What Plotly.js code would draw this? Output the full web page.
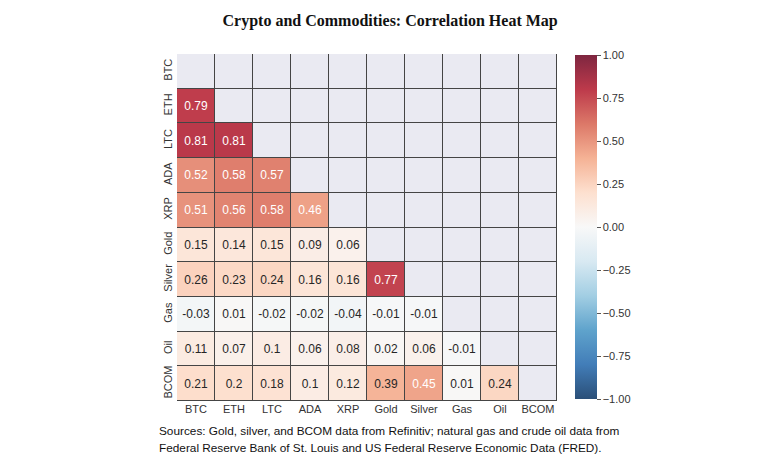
<!DOCTYPE html>
<html>
<head>
<meta charset="utf-8">
<script src="https://cdn.plot.ly/plotly-3.0.1.min.js"></script>
<style>html,body{margin:0;padding:0;background:#fff;}#chart{width:768px;height:463px;}</style>
</head>
<body>
<div id="chart"></div>
<script>
// Categories (rows top-to-bottom, columns left-to-right)
const assets = ["BTC", "ETH", "LTC", "ADA", "XRP", "Gold", "Silver", "Gas", "Oil", "BCOM"];

// Lower-triangle correlation values, one array per row
const rowBTC    = [];
const rowETH    = [0.79];
const rowLTC    = [0.81, 0.81];
const rowADA    = [0.52, 0.58, 0.57];
const rowXRP    = [0.51, 0.56, 0.58, 0.46];
const rowGold   = [0.15, 0.14, 0.15, 0.09, 0.06];
const rowSilver = [0.26, 0.23, 0.24, 0.16, 0.16, 0.77];
const rowGas    = [-0.03, 0.01, -0.02, -0.02, -0.04, -0.01, -0.01];
const rowOil    = [0.11, 0.07, 0.1, 0.06, 0.08, 0.02, 0.06, -0.01];
const rowBCOM   = [0.21, 0.2, 0.18, 0.1, 0.12, 0.39, 0.45, 0.01, 0.24];

const colorbarTicks = [1, 0.75, 0.5, 0.25, 0, -0.25, -0.5, -0.75, -1];

const titleText = "Crypto and Commodities: Correlation Heat Map";
const sourceLines = [
  "Sources: Gold, silver, and BCOM data from Refinitiv; natural gas and crude oil data from",
  "Federal Reserve Bank of St. Louis and US Federal Reserve Economic Data (FRED)."
];

const rows = [rowBTC, rowETH, rowLTC, rowADA, rowXRP, rowGold, rowSilver, rowGas, rowOil, rowBCOM];
const zMask = rows.map(r => assets.map((_, j) => (j < r.length ? null : 0)));
const pick = (cond) => rows.map(r => assets.map((_, j) => (j < r.length && cond(r[j]) ? r[j] : null)));
const zStrong = pick(v => Math.abs(v) >= 0.42);
const zWeak = pick(v => Math.abs(v) < 0.42);
const toText = (zz) => zz.map(r => r.map(v => (v === null ? "" : String(v))));

const rdbu = [
  [0.0, "#2a4f78"], [0.1, "#427db8"], [0.2, "#5fa3cc"], [0.3, "#a2cee3"],
  [0.4, "#d8e9f2"], [0.5, "#f8f8f8"], [0.6, "#fde0cf"], [0.7, "#f5b295"],
  [0.8, "#dc7868"], [0.9, "#bd3a4b"], [1.0, "#7e2640"]
];

const common = {
  type: "heatmap", x: assets, y: assets, xgap: 1, ygap: 1,
  zmin: -1, zmax: 1, colorscale: rdbu, hoverongaps: false
};
const cellFont = "Liberation Sans, Arial, sans-serif";

const traces = [
  Object.assign({}, common, {
    z: zMask, colorscale: [[0, "#eaeaf2"], [1, "#eaeaf2"]], showscale: false, hoverinfo: "skip"
  }),
  Object.assign({}, common, {
    z: zWeak, text: toText(zWeak), showscale: false, texttemplate: "%{text}",
    textfont: {family: cellFont, size: 12, color: "#262626"}
  }),
  Object.assign({}, common, {
    z: zStrong, text: toText(zStrong), showscale: true, texttemplate: "%{text}",
    textfont: {family: cellFont, size: 12, color: "#ffffff"},
    colorbar: {
      x: 1.047, xanchor: "left", xpad: 0, y: 0.5, yanchor: "middle", ypad: 0,
      len: 0.99, lenmode: "fraction", thickness: 22, outlinewidth: 0,
      tickvals: colorbarTicks, tickformat: ".2f", ticks: "outside", ticklen: 4,
      tickcolor: "#555", tickfont: {family: cellFont, size: 11, color: "#333"}
    }
  })
];

const layout = {
  width: 768, height: 463,
  margin: {l: 177, r: 211, t: 54, b: 62},
  paper_bgcolor: "#ffffff",
  plot_bgcolor: "#454545",
  title: {
    text: "<b>" + titleText + "</b>",
    x: 0.508, xanchor: "center", y: 0.955, yanchor: "middle",
    font: {family: "Liberation Serif, serif", size: 16, color: "#111"}
  },
  xaxis: {
    type: "category", showgrid: false, zeroline: false, showline: false, ticks: "",
    tickfont: {family: cellFont, size: 11, color: "#333"}
  },
  yaxis: {
    type: "category", autorange: "reversed", showgrid: false, zeroline: false, showline: false,
    ticks: "", tickangle: -90, ticklabelstandoff: 2,
    tickfont: {family: cellFont, size: 11, color: "#333"}
  },
  annotations: sourceLines.map((t, i) => ({
    text: t, xref: "paper", yref: "paper", x: -0.053, y: -0.06 - i * 0.049,
    xanchor: "left", yanchor: "top", align: "left", showarrow: false,
    font: {family: cellFont, size: 11.8, color: "#111"}
  }))
};

Plotly.newPlot("chart", traces, layout, {displayModeBar: false, staticPlot: true});
</script>
</body>
</html>
